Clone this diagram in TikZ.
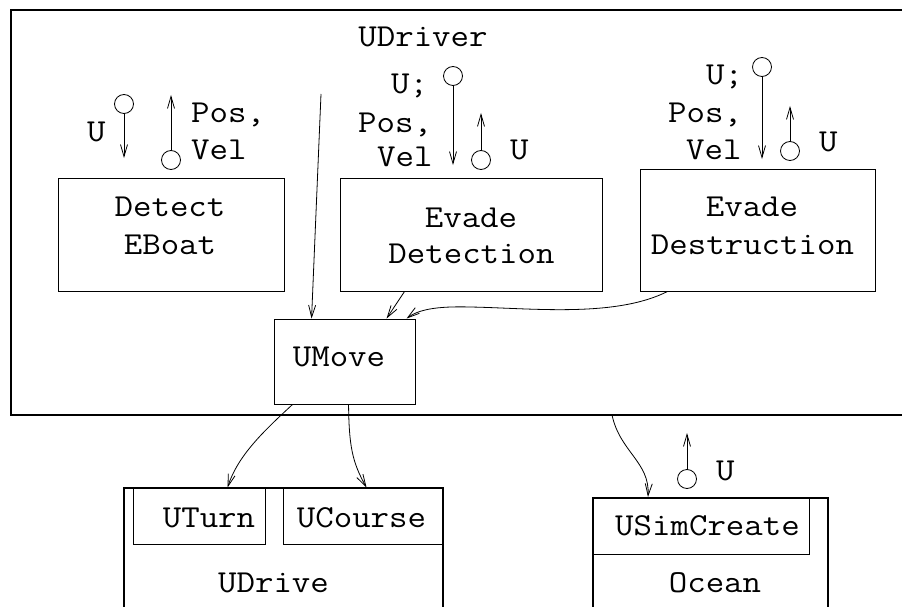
\documentclass[tikz,border=0pt]{standalone}
\usepackage{fontspec}
\newfontfamily\monolbl{Latin Modern Mono}[FakeStretch=1.12]
\usetikzlibrary{arrows.meta,calc}
\newcommand{\lblfont}{\monolbl\fontsize{32}{38}\selectfont}
\begin{document}
\begin{tikzpicture}[x=1pt,y=-1pt,
  box/.style={draw, line width=0.9pt, inner sep=0, rectangle},
  thickbox/.style={draw, line width=2pt, inner sep=0, rectangle},
  txt/.style={font=\lblfont, inner sep=0, anchor=base},
  lbl/.style={font=\lblfont, inner sep=0, anchor=base west},
  port/.style={circle, draw, line width=0.8pt, minimum size=19pt, inner sep=0},
  conn/.style={line width=0.8pt, -{Straight Barb[length=12pt,width=7pt,line width=0.8pt]}}]
\useasboundingbox (0,0) rectangle (902,607);
\clip (0,0) rectangle (902,607);
% outer UDriver box (extends beyond right edge)
\node[thickbox, minimum width=919pt, minimum height=405pt] (udriver) at (470.5,212.5) {};
\node[txt] (tudriver) at (423,47) {UDriver};
% component boxes
\node[box, minimum width=226pt, minimum height=113pt] (detect) at (171,234.5) {};
\node[box, minimum width=262pt, minimum height=113pt] (evdet) at (471,234.5) {};
\node[box, minimum width=235pt, minimum height=122pt] (evdes) at (757.5,230) {};
\node[box, minimum width=141pt, minimum height=85pt] (umove) at (344.5,361.5) {};
\node[thickbox, minimum width=319pt, minimum height=160pt] (udrive) at (283.5,568) {};
\node[box, minimum width=132pt, minimum height=56pt] (uturn) at (199,516) {};
\node[box, minimum width=160pt, minimum height=56pt] (ucourse) at (363,516) {};
\node[thickbox, minimum width=235pt, minimum height=150pt] (ocean) at (710.5,573) {};
\node[box, minimum width=216pt, minimum height=56pt] (usim) at (701,526) {};
% box texts
\node[txt] (tdetect) at (170,216) {Detect};
\node[txt] (teboat) at (170,254) {EBoat};
\node[txt] (tevade1) at (471,227) {Evade};
\node[txt] (tdetection) at (471.5,263) {Detection};
\node[txt] (tevade2) at (752,216) {Evade};
\node[txt] (tdestruction) at (752.5,254) {Destruction};
\node[txt] (tumove) at (339,366) {UMove};
\node[txt] (tuturn) at (209,527) {UTurn};
\node[txt] (tucourse) at (361.5,527) {UCourse};
\node[txt] (tudrive) at (273.5,592) {UDrive};
\node[txt] (tusim) at (707.5,535) {USimCreate};
\node[txt] (tocean) at (715,592) {Ocean};
% ports and labels
\node[port] (p1) at (124,104) {};
\coordinate (e1) at (124,158);
\draw[conn] (p1.south) -- (e1);
\node[lbl] (l1) at (87,142) {U};
\node[port] (p2) at (171,160) {};
\coordinate (e2) at (171,95);
\draw[conn] (p2.north) -- (e2);
\node[lbl] (l2a) at (191,123) {Pos,};
\node[lbl] (l2b) at (191,160) {Vel};
\node[port] (p3) at (453,76) {};
\coordinate (e3) at (453,165);
\draw[conn] (p3.south) -- (e3);
\node[lbl] (l3a) at (391,94) {U;};
\node[lbl] (l3b) at (358,132) {Pos,};
\node[lbl] (l3c) at (377,167) {Vel};
\node[port] (p4) at (481,160) {};
\coordinate (e4) at (481,113);
\draw[conn] (p4.north) -- (e4);
\node[lbl] (l4) at (510,159) {U};
\node[port] (p5) at (762,67) {};
\coordinate (e5) at (762,159);
\draw[conn] (p5.south) -- (e5);
\node[lbl] (l5a) at (706,85) {U;};
\node[lbl] (l5b) at (668,123) {Pos,};
\node[lbl] (l5c) at (686,159) {Vel};
\node[port] (p6) at (790,151) {};
\coordinate (e6) at (790,106);
\draw[conn] (p6.north) -- (e6);
\node[lbl] (l6) at (819,151) {U};
\node[port] (p7) at (687,479) {};
\coordinate (e7) at (687,433);
\draw[conn] (p7.north) -- (e7);
\node[lbl] (l7) at (716,480) {U};
% connectors
\coordinate (s1) at (321,94);
\draw[conn] (s1) -- ($(umove.north west)+(38,0)$);
\draw[conn] ($(evdet.south west)+(65,0)$) -- ($(umove.north west)+(113,0)$);
\draw[conn] ($(evdes.south west)+(28,0)$) .. controls (615,318) and (530,308) .. (470,307)
   .. controls (435,306) and (418,310) .. ($(umove.north west)+(133,0)$);
\draw[conn] ($(umove.south west)+(19,0)$) .. controls (265,430) and (238,455) .. ($(uturn.north west)+(95,0)$);
\draw[conn] ($(umove.south west)+(75,0)$) .. controls (349,445) and (352,462) .. ($(ucourse.north west)+(84,0)$);
\coordinate (s6) at (612,415);
\draw[conn] (s6) .. controls (620,452) and (650,462) .. ($(ocean.north west)+(56,0)$);
\end{tikzpicture}
\end{document}
